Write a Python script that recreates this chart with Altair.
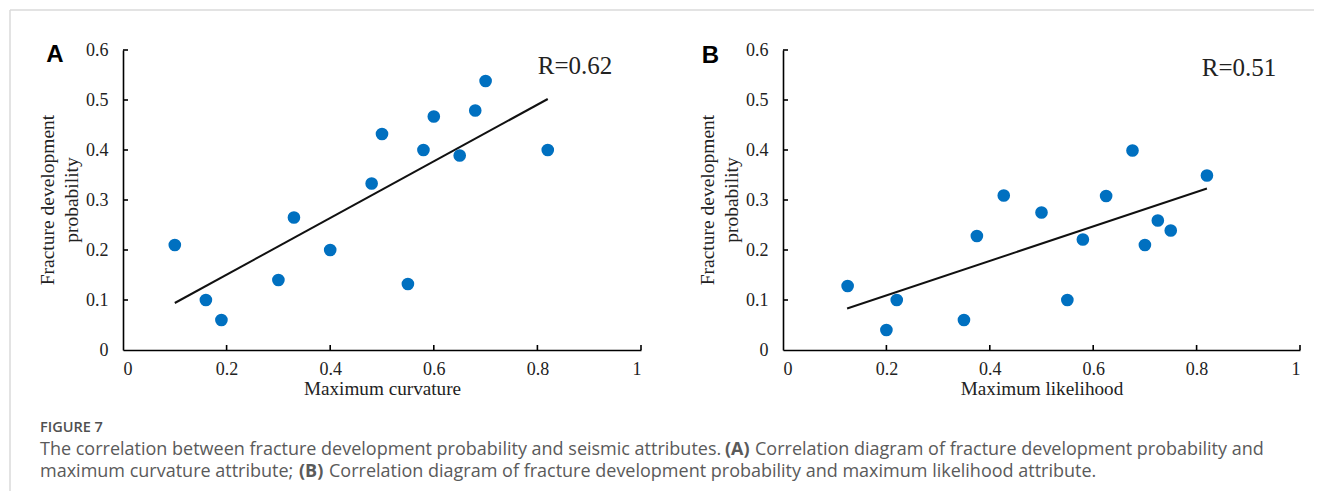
import altair as alt
import pandas as pd

# ---------------- data ----------------
a_x = [0.10, 0.16, 0.19, 0.30, 0.33, 0.40, 0.48, 0.50, 0.55, 0.58, 0.60, 0.65, 0.68, 0.70, 0.82]
a_y = [0.21, 0.10, 0.06, 0.14, 0.265, 0.20, 0.333, 0.432, 0.132, 0.40, 0.467, 0.389, 0.479, 0.538, 0.40]
a_fit_x = [0.10, 0.82]
a_fit_y = [0.094, 0.502]

b_x = [0.125, 0.20, 0.22, 0.35, 0.375, 0.427, 0.50, 0.55, 0.58, 0.625, 0.676, 0.70, 0.725, 0.75, 0.82]
b_y = [0.128, 0.04, 0.10, 0.06, 0.228, 0.309, 0.275, 0.10, 0.221, 0.308, 0.399, 0.21, 0.259, 0.239, 0.349]
b_fit_x = [0.124, 0.82]
b_fit_y = [0.083, 0.323]

x_ticks = [0, 0.2, 0.4, 0.6, 0.8, 1]
y_ticks = [0, 0.1, 0.2, 0.3, 0.4, 0.5, 0.6]

x_title_a = "Maximum curvature"
x_title_b = "Maximum likelihood"
y_title = ["Fracture development", "probability"]
r_a = "R=0.62"
r_b = "R=0.51"
fig_label = "FIGURE 7"
cap1 = ["The correlation between fracture development probability and seismic attributes.",
        "(A)",
        "Correlation diagram of fracture development probability and"]
cap2 = ["maximum curvature attribute;",
        "(B)",
        "Correlation diagram of fracture development probability and maximum likelihood attribute."]

# ---------------- styling ----------------
SERIF = "Liberation Serif"
SANS = "Open Sans"
BLUE = "#0070C0"
INK = "#222222"
CAP = "#5a5a5a"
H = 300
A_RANGE = [0, 518]
B_RANGE = [660, 1177]


def x_enc(rng, title):
    return alt.X("x:Q",
                 scale=alt.Scale(domain=[0, 1], range=rng, nice=False, zero=False),
                 axis=alt.Axis(values=x_ticks, format="~g", orient="bottom", grid=False,
                               ticks=False, tickSize=0, labelPadding=10,
                               labelFont=SERIF, labelFontSize=18, labelColor=INK,
                               domainColor="#000000", domainWidth=1.6,
                               title=title, titleFont=SERIF, titleFontSize=19.2,
                               titleFontWeight="normal", titleColor=INK,
                               titleY=38, titleBaseline="middle"))


def y_enc(offset):
    return alt.Y("y:Q",
                 scale=alt.Scale(domain=[0, 0.6], nice=False, zero=False),
                 axis=alt.Axis(values=y_ticks, format="~g", orient="left", grid=False,
                               ticks=False, tickSize=0, labelPadding=15, offset=offset,
                               labelFont=SERIF, labelFontSize=18, labelColor=INK,
                               domainColor="#000000", domainWidth=1.6, title=None))


def panel(xs, ys, fx, fy, rng, title, yoff, px):
    xe = x_enc(rng, title)
    ye = y_enc(yoff)
    pts = alt.Chart(pd.DataFrame({"x": xs, "y": ys})).mark_circle(
        size=160, color=BLUE, opacity=1).encode(x=xe, y=ye)
    fit = alt.Chart(pd.DataFrame({"x": fx, "y": fy})).mark_line(
        color="#111111", strokeWidth=2).encode(x=xe, y=ye)
    xt = alt.Chart(pd.DataFrame({"x": x_ticks[1:]})).mark_rule(
        color="#000000", strokeWidth=1.6).encode(x=xe, y=alt.value(H), y2=alt.value(H - 5))
    yt = alt.Chart(pd.DataFrame({"y": y_ticks[1:]})).mark_rule(
        color="#000000", strokeWidth=1.6).encode(y=ye, x=alt.value(px), x2=alt.value(px + 5))
    return alt.layer(xt, yt, fit, pts)


def txt(s, x, y, **kw):
    return alt.Chart(alt.Data(values=[{}])).mark_text(**kw).encode(
        x=alt.value(x), y=alt.value(y), text=alt.value(s))


pA = panel(a_x, a_y, a_fit_x, a_fit_y, A_RANGE, x_title_a, 0, 0)
pB = panel(b_x, b_y, b_fit_x, b_fit_y, B_RANGE, x_title_b, -B_RANGE[0], B_RANGE[0])

one = alt.Data(values=[{}])
border_top = alt.Chart(one).mark_rule(color="#dadada", strokeWidth=1.5).encode(
    x=alt.value(-113), x2=alt.value(1300), y=alt.value(-40))
border_left = alt.Chart(one).mark_rule(color="#dadada", strokeWidth=1.5).encode(
    x=alt.value(-113), y=alt.value(-40), y2=alt.value(470))

yt_kw = dict(font=SERIF, fontSize=19.5, color=INK, angle=270, align="center", baseline="middle")
cap_kw = dict(font=SANS, fontSize=18, color=CAP, align="left", baseline="middle")

annos = [
    txt("A", -68, 4.5, font="Liberation Sans", fontSize=24, fontWeight="bold", color="#000000",
        align="center", baseline="middle"),
    txt("B", 587.5, 5.5, font="Liberation Sans", fontSize=24, fontWeight="bold", color="#000000",
        align="center", baseline="middle"),
    txt(r_a, 452, 16, font=SERIF, fontSize=25, color=INK, align="center", baseline="middle"),
    txt(r_b, 1116, 18, font=SERIF, fontSize=25, color=INK, align="center", baseline="middle"),
    txt(y_title[0], -75, 150, **yt_kw),
    txt(y_title[1], -51, 150, **yt_kw),
    txt(y_title[0], 585, 150, **yt_kw),
    txt(y_title[1], 609, 150, **yt_kw),
    txt(fig_label, -83, 378, font=SANS, fontSize=14.5, fontWeight=600, color="#505050",
        align="left", baseline="middle"),
    txt(cap1[0], -83, 400, **cap_kw),
    txt(cap1[1], 602, 400, fontWeight="bold", **cap_kw),
    txt(cap1[2], 632, 400, **cap_kw),
    txt(cap2[0], -83, 422, **cap_kw),
    txt(cap2[1], 176, 422, fontWeight="bold", **cap_kw),
    txt(cap2[2], 206, 422, **cap_kw),
]

chart = alt.layer(border_top, border_left, pA, pB, *annos).resolve_scale(
    x="independent", y="independent").resolve_axis(x="independent", y="independent").properties(
    width=1177, height=H,
    autosize=alt.AutoSizeParams(type="none"),
    padding={"left": 115, "top": 42, "right": 14, "bottom": 141},
).configure_view(stroke=None)

chart.save("out.html", embed_options={"renderer": "svg", "actions": False})
